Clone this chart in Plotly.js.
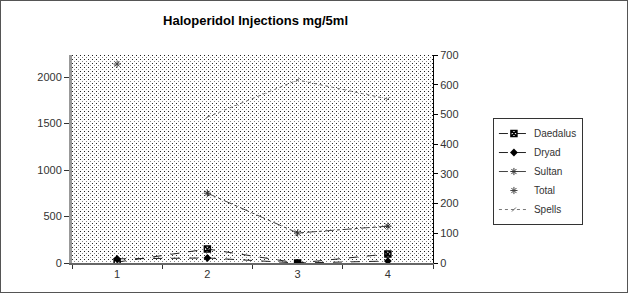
<!DOCTYPE html>
<html>
<head>
<meta charset="utf-8">
<script src="https://cdn.plot.ly/plotly-3.0.1.min.js"></script>
<style>
  html, body { margin:0; padding:0; background:#fff; }
  #wrap { position:relative; width:631px; height:293px; }
  #bg { position:absolute; left:72px; top:55px; width:361px; height:208px;
        background-image:url("data:image/svg+xml;utf8,<svg xmlns='http://www.w3.org/2000/svg' width='4' height='4'><rect x='0' y='0' width='1' height='1' fill='%23222'/><rect x='2' y='2' width='1' height='1' fill='%23888'/></svg>");
        background-repeat:repeat; }
  #frame { position:absolute; left:0; top:0; width:626px; height:291px; border:1px solid #555; pointer-events:none; }
  #chart { position:absolute; left:0; top:0; width:631px; height:293px; }
</style>
</head>
<body>
<div id="wrap">
  <div id="bg"></div>
  <div id="chart"></div>
  <div id="frame"></div>
</div>
<script>
const categories = ['1', '2', '3', '4'];
const daedalus = [10, 150, 0, 97];
const dryad = [45, 54, 0, 21];
const sultan = [null, 235, 101, 124];
const total = [2140, null, null, null];
const spells = [null, 491, 616, 552];
const leftTicks = [0, 500, 1000, 1500, 2000];
const rightTicks = [0, 100, 200, 300, 400, 500, 600, 700];

const traces = [
  {name:'Daedalus', x:categories, y:daedalus, mode:'lines+markers', yaxis:'y',
   line:{color:'#222', width:1, dash:'dash'}, marker:{symbol:'square-x-open', size:6, color:'#000', line:{width:1.5, color:'#000'}}},
  {name:'Dryad', x:categories, y:dryad, mode:'lines+markers', yaxis:'y',
   line:{color:'#222', width:1, dash:'dash'}, marker:{symbol:'diamond', size:6, color:'#000'}},
  {name:'Sultan', x:categories, y:sultan, mode:'lines+markers', yaxis:'y2',
   line:{color:'#444', width:1, dash:'dashdot'}, marker:{symbol:'asterisk-open', size:6, color:'#333', line:{width:1, color:'#333'}}},
  {name:'Total', x:categories, y:total, mode:'markers', yaxis:'y',
   marker:{symbol:'asterisk-open', size:6, color:'#444', line:{width:1, color:'#444'}}},
  {name:'Spells', x:categories, y:spells, mode:'lines+markers', yaxis:'y2',
   line:{color:'#777', width:1, dash:'dot'}, marker:{symbol:'line-ne-open', size:4, color:'#666', line:{width:1, color:'#666'}}}
];

const layout = {
  width:631, height:293,
  margin:{l:72, r:198, t:55, b:30},
  paper_bgcolor:'rgba(0,0,0,0)', plot_bgcolor:'rgba(0,0,0,0)',
  font:{family:'Liberation Sans, Arial, sans-serif', size:11, color:'#333'},
  title:{text:'<b>Haloperidol Injections mg/5ml</b>', x:0.405, xanchor:'center', y:0.93, yanchor:'middle',
         font:{family:'Liberation Sans, Arial, sans-serif', size:13, color:'#000'}},
  showlegend:true,
  legend:{x:1.166, y:0.697, xanchor:'left', yanchor:'top', bgcolor:'#fff', bordercolor:'#333', borderwidth:1,
          font:{size:10, color:'#333'}, tracegroupgap:0, itemwidth:30},
  xaxis:{type:'category', range:[-0.5, 3.5], tickson:'boundaries', showgrid:false, zeroline:false, showline:true,
         linecolor:'#666', linewidth:2, ticks:'outside', ticklen:4, tickcolor:'#333',
         tickfont:{size:11, color:'#333'}},
  yaxis:{range:[0, 2237], tickvals:leftTicks, showgrid:false, zeroline:false,
         showline:true, linecolor:'#999', linewidth:3, ticks:'outside', ticklen:5, tickcolor:'#333',
         tickfont:{size:11, color:'#333'}},
  yaxis2:{range:[0, 700], tickvals:rightTicks, overlaying:'y', side:'right', showgrid:false, zeroline:false,
          showline:true, linecolor:'#000', linewidth:1, ticks:'outside', ticklen:4, tickcolor:'#000',
          tickfont:{size:11, color:'#333'}}
};
Plotly.newPlot('chart', traces, layout, {displayModeBar:false, staticPlot:true});
</script>
</body>
</html>
